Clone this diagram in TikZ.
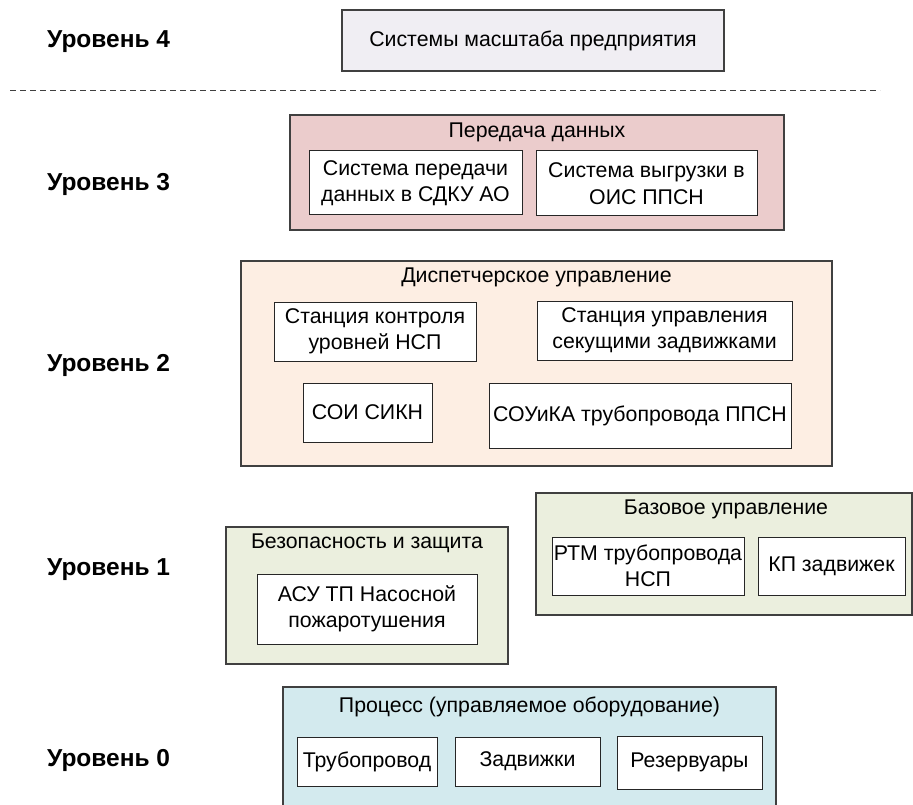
\documentclass[tikz,border=0pt]{standalone}
\usepackage{fontspec}
\setmainfont{Liberation Sans}
\definecolor{cL4}{RGB}{240,238,243}
\definecolor{cL3}{RGB}{235,204,204}
\definecolor{cL2}{RGB}{253,238,227}
\definecolor{cL1}{RGB}{235,239,222}
\definecolor{cL0}{RGB}{211,234,238}
\definecolor{edge}{RGB}{64,64,64}
\begin{document}
\begin{tikzpicture}[x=1pt,y=-1pt,
  txt/.style={font=\fontsize{21.3}{26.5}\selectfont, align=center, inner sep=0pt},
  lvl/.style={font=\fontsize{24.5}{28}\selectfont\bfseries, anchor=west, inner sep=0pt},
  group/.style={draw=edge, line width=1.2pt, inner sep=0pt, rectangle},
  item/.style={draw=black!85, line width=1pt, fill=white, inner sep=0pt, rectangle, txt},
]
\useasboundingbox (0,0) rectangle (913,805);

% level labels
\node[lvl] (u4) at (47,42) {Уровень 4};
\node[lvl] (u3) at (47,184) {Уровень 3};
\node[lvl] (u2) at (47,365) {Уровень 2};
\node[lvl] (u1) at (47,570) {Уровень 1};
\node[lvl] (u0) at (47,760) {Уровень 0};

% level 4
\node[group, fill=cL4, minimum width=382pt, minimum height=61pt, txt] (ent) at (533,40.5) {Системы масштаба предприятия};

% dashed separator
\coordinate (dl) at (10,91);
\coordinate (dr) at (880,91);
\draw[edge, line width=1pt, dash pattern=on 6pt off 4pt] (dl) -- (dr);

% level 3
\node[group, fill=cL3, minimum width=494pt, minimum height=115pt] (g3) at (537,172.5) {};
\node[txt] (t3) at (537,132) {Передача данных};
\node[item, minimum width=213pt, minimum height=64pt] (s31) at (415.5,183) {Система передачи\\данных в СДКУ АО};
\node[item, minimum width=221pt, minimum height=65pt] (s32) at (646.5,183.5) {Система выгрузки в\\ОИС ППСН};

% level 2
\node[group, fill=cL2, minimum width=591pt, minimum height=205pt] (g2) at (536.5,363.5) {};
\node[txt] (t2) at (536.5,277) {Диспетчерское управление};
\node[item, minimum width=202pt, minimum height=59pt] (s21) at (375,331.5) {Станция контроля\\уровней НСП};
\node[item, minimum width=255pt, minimum height=59pt] (s22) at (664.5,330.5) {Станция управления\\секущими задвижками};
\node[item, minimum width=129pt, minimum height=59pt] (s23) at (367.5,412.5) {СОИ СИКН};
\node[item, minimum width=302pt, minimum height=65pt] (s24) at (640,415.5) {СОУиКА трубопровода ППСН};

% level 1
\node[group, fill=cL1, minimum width=282pt, minimum height=137pt] (g1a) at (367,595.5) {};
\node[txt] (t1a) at (367,543) {Безопасность и защита};
\node[item, minimum width=220pt, minimum height=70pt] (s11) at (367,609) {АСУ ТП Насосной\\пожаротушения};
\node[group, fill=cL1, minimum width=376pt, minimum height=122pt] (g1b) at (724,554) {};
\node[txt] (t1b) at (726,509) {Базовое управление};
\node[item, minimum width=192pt, minimum height=58pt] (s12) at (648,566) {РТМ трубопровода\\НСП};
\node[item, minimum width=147pt, minimum height=58pt] (s13) at (831.5,566) {КП задвижек};

% level 0
\node[group, fill=cL0, minimum width=493pt, minimum height=120pt] (g0) at (529.5,747) {};
\node[txt] (t0) at (529.5,707) {Процесс (управляемое оборудование)};
\node[item, minimum width=140pt, minimum height=49pt] (s01) at (367,761.5) {Трубопровод};
\node[item, minimum width=145pt, minimum height=49pt] (s02) at (527.5,761.5) {Задвижки};
\node[item, minimum width=145pt, minimum height=53pt] (s03) at (689.5,762.5) {Резервуары};
\end{tikzpicture}
\end{document}
